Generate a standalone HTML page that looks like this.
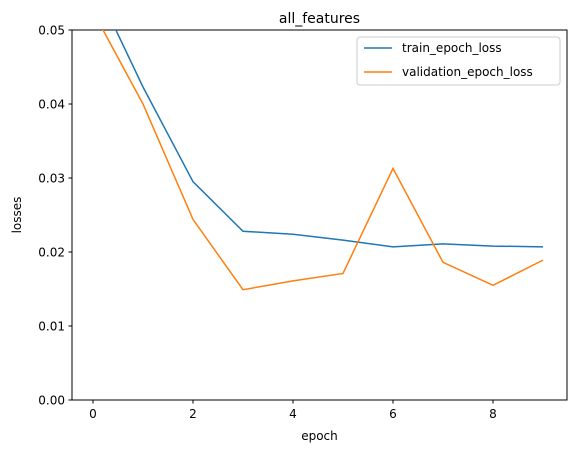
<!DOCTYPE html>
<html><head><meta charset="utf-8"><style>
body{margin:0;background:#fff;font-family:"Liberation Sans","DejaVu Sans",sans-serif;}
svg text{font-family:"DejaVu Sans","Liberation Sans",sans-serif;}
</style></head><body>
<svg id="chart" width="576" height="453">
<defs><clipPath id="clip"><rect x="72" y="30" width="495" height="370"/></clipPath></defs>
<rect x="72" y="30" width="495" height="370" fill="#fff" stroke="#000" stroke-width="1"/>
<g id="series" clip-path="url(#clip)"></g>
<g id="axes"></g>
<text x="319.5" y="23" text-anchor="middle" font-size="14">all_features</text>
<text x="319.5" y="440" text-anchor="middle" font-size="12">epoch</text>
<text transform="translate(21,215) rotate(-90)" text-anchor="middle" font-size="12">losses</text>
<g>
<rect x="357" y="37" width="203" height="48" fill="#fff" stroke="#ccc" rx="3"/>
<line x1="364" y1="48" x2="392" y2="48" stroke="#1f77b4" stroke-width="1.5"/>
<text x="402" y="52" font-size="12">train_epoch_loss</text>
<line x1="364" y1="72" x2="392" y2="72" stroke="#ff7f0e" stroke-width="1.5"/>
<text x="402" y="76" font-size="12">validation_epoch_loss</text>
</g>
</svg>
<script>
const epochs=[0,1,2,3,4,5,6,7,8,9];
const trainLoss=[0.0565,0.0423,0.0295,0.0228,0.0224,0.0216,0.0207,0.0211,0.0208,0.0207];
const valLoss=[0.0525,0.0400,0.0244,0.0149,0.0161,0.0171,0.0313,0.0186,0.0155,0.0189];
const xTicks=[0,2,4,6,8];
const yTicks=[0,0.01,0.02,0.03,0.04,0.05];
const X=v=>93+v*50;
const Y=v=>400-v*7400;
const NS="http://www.w3.org/2000/svg";
const series=document.getElementById('series'),axes=document.getElementById('axes');
function line(vals,color,name){
 const p=document.createElementNS(NS,'polyline');
 p.setAttribute('points',vals.map((v,i)=>X(epochs[i])+','+Y(v)).join(' '));
 p.setAttribute('fill','none');p.setAttribute('stroke',color);p.setAttribute('stroke-width','1.5');
 
 
 series.appendChild(p);
}
line(trainLoss,'#1f77b4','train-loss-line');
line(valLoss,'#ff7f0e','validation-loss-line');
xTicks.forEach(t=>{
 const l=document.createElementNS(NS,'line');
 l.setAttribute('x1',X(t));l.setAttribute('x2',X(t));l.setAttribute('y1',400);l.setAttribute('y2',403.5);l.setAttribute('stroke','#000');
 
 
 axes.appendChild(l);
 const tx=document.createElementNS(NS,'text');
 tx.setAttribute('x',X(t));tx.setAttribute('y',418);tx.setAttribute('text-anchor','middle');tx.setAttribute('font-size','12');
 tx.textContent=t;
 
 
 axes.appendChild(tx);
});
yTicks.forEach(t=>{
 const l=document.createElementNS(NS,'line');
 l.setAttribute('x1',68.5);l.setAttribute('x2',72);l.setAttribute('y1',Y(t));l.setAttribute('y2',Y(t));l.setAttribute('stroke','#000');
 
 
 axes.appendChild(l);
 const tx=document.createElementNS(NS,'text');
 tx.setAttribute('x',65);tx.setAttribute('y',Y(t)+4.5);tx.setAttribute('text-anchor','end');tx.setAttribute('font-size','12');
 tx.textContent=t.toFixed(2);
 
 
 axes.appendChild(tx);
});
</script>
</body></html>
